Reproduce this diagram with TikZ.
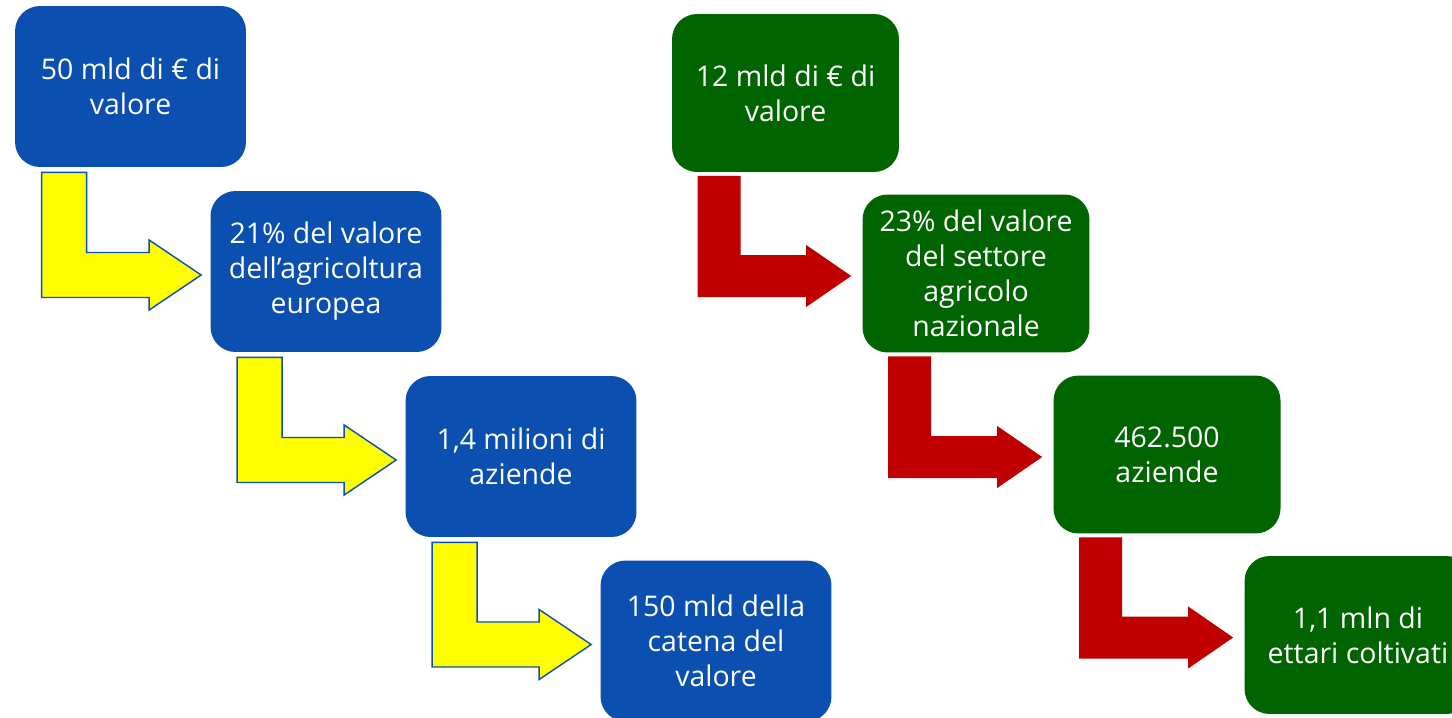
\documentclass[tikz,border=0pt]{standalone}
\usepackage{fontspec}
\setmainfont{Open Sans}
\usepackage{xcolor}
\usetikzlibrary{calc}
\definecolor{euroblue}{RGB}{11, 79, 176}
\definecolor{itagreen}{RGB}{0, 100, 0}
\definecolor{arrowred}{RGB}{192, 0, 0}
\definecolor{arrowyellow}{RGB}{255, 255, 0}

\begin{document}
\begin{tikzpicture}[
  x=0.02cm, y=-0.02cm,
  eubox/.style={rectangle, fill=euroblue, rounded corners=0.5cm, minimum width=4.62cm, minimum height=3.22cm, align=center, text=white, font=\fontsize{16.2}{19.9}\selectfont},
  itbox/.style={rectangle, fill=itagreen, rounded corners=0.5cm, minimum width=4.54cm, minimum height=3.16cm, align=center, text=white, font=\fontsize{16.2}{19.9}\selectfont},
  yarrow/.style={fill=arrowyellow, draw=euroblue, line width=0.8pt, line join=miter},
  rarrow/.style={fill=arrowred, draw=none}
]
\useasboundingbox (0,0) rectangle (1452,717);

% Left column: European figures
\node[eubox] (b1) at (130.5, 86.5) {50 mld di € di\\valore};
\node[eubox] (b2) at (326, 271.5) {21\% del valore\\dell’agricoltura\\europea};
\node[eubox] (b3) at (521, 456.5) {1,4 milioni di\\aziende};
\node[eubox] (b4) at (716, 641) {150 mld della\\catena del\\valore};

% Right column: national figures
\node[itbox] (g1) at (785.5, 93) {12 mld di € di\\valore};
\node[itbox] (g2) at (976, 273.5) {23\% del valore\\del settore\\agricolo\\nazionale};
\node[itbox] (g3) at (1167, 454.5) {462.500\\aziende};
\node[itbox] (g4) at (1358, 635) {1,1 mln di\\ettari coltivati};

% Bent arrows between the boxes
\foreach \a/\b in {b1/b2, b2/b3, b3/b4}{
  \coordinate (s) at ($(\a.south west)+(27,5)$);
  \coordinate (t) at ($(\b.west)+(-9,3.5)$);
  \draw[yarrow] (s) -- ++(45,0) |- ($(t)+(-52,-22.5)$) -- ++(0,-12.5) -- (t) -- ++(-52,35) -- ++(0,-12.5) -- ($(s |- t)+(0,22.5)$) -- cycle;
}
\foreach \a/\b in {g1/g2, g2/g3, g3/g4}{
  \coordinate (s) at ($(\a.south west)+(26,3.5)$);
  \coordinate (t) at ($(\b.west)+(-11,2.5)$);
  \fill[rarrow] (s) -- ++(43,0) |- ($(t)+(-45,-21)$) -- ++(0,-10) -- (t) -- ++(-45,31) -- ++(0,-10) -- ($(s |- t)+(0,21)$) -- cycle;
}

\end{tikzpicture}
\end{document}
